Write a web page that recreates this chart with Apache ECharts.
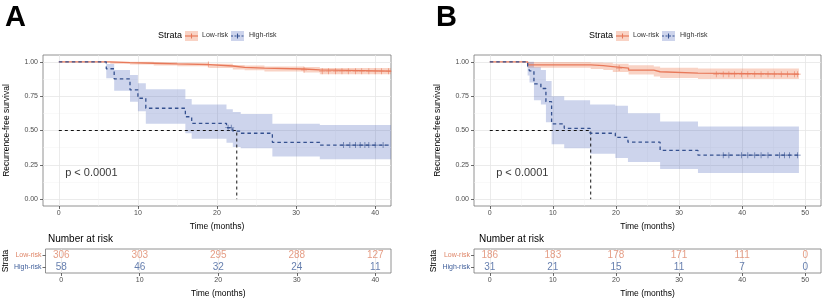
<!DOCTYPE html>
<html>
<head>
<meta charset="utf-8">
<script src="https://cdn.jsdelivr.net/npm/echarts@6/dist/echarts.min.js"></script>
<style>
html, body { margin: 0; padding: 0; background: #fff; }
#chart { width: 824px; height: 299px; }
</style>
</head>
<body>
<div id="chart"></div>
<script>
// y axis ticks (shared)
var yTicks = [0, 0.25, 0.5, 0.75, 1];
var yMinor = [0.125, 0.375, 0.625, 0.875];

// ---- panel A ----
var aXTicks = [0, 10, 20, 30, 40];
var aXMinor = [5, 15, 25, 35];
// low-risk curve + confidence band (step values)
var aLowT  = [0, 6.5, 9, 12, 15, 19, 22, 23.5, 26, 31, 33, 42];
var aLowS  = [1, 0.995, 0.99, 0.985, 0.98, 0.97, 0.96, 0.955, 0.948, 0.942, 0.932, 0.932];
var aLowLo = [1, 0.987, 0.98, 0.974, 0.968, 0.955, 0.944, 0.938, 0.93, 0.922, 0.91, 0.91];
var aLowHi = [1, 1, 1, 0.997, 0.993, 0.986, 0.978, 0.973, 0.967, 0.962, 0.955, 0.955];
var aLowCensor = [18.9, 31, 33.3, 34.1, 35, 35.8, 36.6, 37.5, 38.3, 39.2, 40, 40.8, 41.7];
// high-risk curve + band
var aHighT  = [0, 6, 7, 9, 10, 11, 16, 16.8, 21.2, 22, 23, 27, 33, 42];
var aHighS  = [1, 0.95, 0.876, 0.796, 0.735, 0.662, 0.6, 0.552, 0.52, 0.496, 0.48, 0.414, 0.394, 0.394];
var aHighLo = [1, 0.88, 0.79, 0.71, 0.64, 0.55, 0.48, 0.44, 0.41, 0.38, 0.37, 0.31, 0.29, 0.29];
var aHighHi = [1, 0.985, 0.94, 0.905, 0.845, 0.8, 0.73, 0.69, 0.655, 0.635, 0.62, 0.55, 0.54, 0.54];
var aHighCensor = [21.4, 21.8, 36, 36.8, 37.5, 38.1, 38.7, 39.2, 40, 41];
var aMedian = 22.5;
var aRiskT = [0, 10, 20, 30, 40];
var aRiskLow = [306, 303, 295, 288, 127];
var aRiskHigh = [58, 46, 32, 24, 11];

// ---- panel B ----
var bXTicks = [0, 10, 20, 30, 40, 50];
var bXMinor = [5, 15, 25, 35, 45];
var bLowT  = [0, 6, 16, 18, 19.5, 22, 26, 27, 33, 49];
var bLowS  = [1, 0.978, 0.972, 0.966, 0.955, 0.94, 0.928, 0.918, 0.91, 0.91];
var bLowLo = [1, 0.957, 0.948, 0.94, 0.926, 0.908, 0.893, 0.882, 0.875, 0.875];
var bLowHi = [1, 0.999, 0.996, 0.993, 0.986, 0.975, 0.966, 0.958, 0.952, 0.952];
var bLowCensor = [20.5, 35.9, 37, 37.9, 38.8, 39.9, 40.9, 42, 43, 44.1, 45.1, 46.2, 47.2, 48.3, 48.8];
var bHighT  = [0, 6, 6.3, 7, 8.1, 8.9, 9.8, 11.8, 15.9, 19.9, 21.9, 27, 33, 49];
var bHighS  = [1, 0.968, 0.935, 0.839, 0.806, 0.71, 0.548, 0.516, 0.48, 0.45, 0.415, 0.355, 0.32, 0.32];
var bHighLo = [1, 0.9, 0.85, 0.72, 0.69, 0.56, 0.4, 0.37, 0.33, 0.3, 0.27, 0.22, 0.19, 0.19];
var bHighHi = [1, 1, 1, 0.96, 0.94, 0.86, 0.75, 0.72, 0.69, 0.68, 0.625, 0.565, 0.53, 0.53];
var bHighCensor = [37, 37.9, 39.9, 40.9, 42, 43, 44.1, 45.9, 46.7, 47.5, 48.8];
var bMedian = 16;
var bRiskT = [0, 10, 20, 30, 40, 50];
var bRiskLow = [186, 183, 178, 171, 111, 0];
var bRiskHigh = [31, 21, 15, 11, 7, 0];

var FONT = '"Liberation Sans", Arial, sans-serif';
var LOW_COL = '#E8795A', HIGH_COL = '#34508F';
var LOW_BAND = 'rgba(235,108,62,0.3)', HIGH_BAND = 'rgba(75,102,185,0.28)';
var LOW_TXT = '#DE8466', HIGH_TXT = '#3F5E9A';
var PLUS = 'path://M0,4.4H10V5.6H0Z M4.4,0H5.6V10H4.4Z';

var panels = [
	{letter: 'A', left: 43, width: 348, xMin: -2, xMax: 42, xTicks: aXTicks, xMinor: aXMinor, pvalX: 0.8,
	 low: {t: aLowT, s: aLowS, lo: aLowLo, hi: aLowHi, c: aLowCensor},
	 high: {t: aHighT, s: aHighS, lo: aHighLo, hi: aHighHi, c: aHighCensor},
	 median: aMedian, riskT: aRiskT, riskLow: aRiskLow, riskHigh: aRiskHigh},
	{letter: 'B', left: 474, width: 347, xMin: -2.5, xMax: 52.5, xTicks: bXTicks, xMinor: bXMinor, pvalX: 1,
	 low: {t: bLowT, s: bLowS, lo: bLowLo, hi: bLowHi, c: bLowCensor},
	 high: {t: bHighT, s: bHighS, lo: bHighLo, hi: bHighHi, c: bHighCensor},
	 median: bMedian, riskT: bRiskT, riskLow: bRiskLow, riskHigh: bRiskHigh}
];

// survival value at time t (step function)
function survAt(t, T, S) {
	var v = S[0];
	for (var i = 0; i < T.length; i++) {
		if (T[i] <= t) v = S[i];
	}
	return v;
}

// confidence band drawn as one step polygon
function bandSeries(xi, yi, cur, color) {
	return {
		type: 'custom', xAxisIndex: xi, yAxisIndex: yi, z: 1, silent: true, clip: true,
		data: [[cur.t[0], cur.lo[0], cur.hi[0]]],
		encode: {x: 0, y: [1, 2]},
		renderItem: function (params, api) {
			var pts = [];
			var n = cur.t.length;
			for (var i = 0; i < n - 1; i++) {
				pts.push(api.coord([cur.t[i], cur.hi[i]]));
				pts.push(api.coord([cur.t[i + 1], cur.hi[i]]));
			}
			for (var j = n - 2; j >= 0; j--) {
				pts.push(api.coord([cur.t[j + 1], cur.lo[j]]));
				pts.push(api.coord([cur.t[j], cur.lo[j]]));
			}
			return {type: 'polygon', shape: {points: pts}, style: {fill: color, stroke: null}};
		}
	};
}

var option = {
	animation: false,
	textStyle: {fontFamily: FONT},
	title: [], grid: [], xAxis: [], yAxis: [], series: [], graphic: []
};

function xAxisOpt(gi, p, ticks, named, labels) {
	return {
		gridIndex: gi, type: 'value', position: 'bottom', min: p.xMin, max: p.xMax,
		axisLine: {show: false, onZero: false},
		axisTick: {show: labels, customValues: ticks, length: 3, lineStyle: {color: '#444', width: 0.8}},
		axisLabel: {show: labels, customValues: ticks, fontSize: 7, color: '#4d4d4d', margin: 4, fontFamily: FONT},
		splitLine: {show: true, lineStyle: {color: labels ? '#e6e6e6' : '#f3f3f3', width: labels ? 0.8 : 0.5}},
		name: named ? 'Time (months)' : '', nameLocation: 'middle', nameGap: 16,
		nameTextStyle: {fontSize: 8.5, color: '#000', fontFamily: FONT}
	};
}

function yAxisOpt(gi, ticks, labels) {
	return {
		gridIndex: gi, type: 'value', position: 'left', min: -0.05, max: 1.05,
		axisLine: {show: false, onZero: false},
		axisTick: {show: labels, customValues: ticks, length: 3, lineStyle: {color: '#444', width: 0.8}},
		axisLabel: {show: labels, customValues: ticks, fontSize: 7, color: '#4d4d4d', margin: 5, fontFamily: FONT,
			formatter: function (v) { return v.toFixed(2); }},
		splitLine: {show: true, lineStyle: {color: labels ? '#e6e6e6' : '#f3f3f3', width: labels ? 0.8 : 0.5}},
		name: labels ? 'Recurrence-free survival' : '', nameLocation: 'middle', nameGap: 32, nameRotate: 90,
		nameTextStyle: {fontSize: 8.5, color: '#000', fontFamily: FONT}
	};
}

panels.forEach(function (p) {
	var gMain = option.grid.length;
	var gTab = gMain + 1;
	option.grid.push({left: p.left, top: 55, width: p.width, height: 151, show: true,
		borderColor: '#777', borderWidth: 0.8, backgroundColor: '#fff'});
	option.grid.push({left: p.left, top: 249, width: p.width, height: 27, show: true,
		borderColor: '#777', borderWidth: 0.8, backgroundColor: '#fff'});

	option.xAxis.push(xAxisOpt(gMain, p, p.xMinor, false, false));
	var xMain = option.xAxis.length;
	option.xAxis.push(xAxisOpt(gMain, p, p.xTicks, true, true));
	var xTab = option.xAxis.length;
	option.xAxis.push(xAxisOpt(gTab, p, p.xTicks, true, true));

	option.yAxis.push(yAxisOpt(gMain, yMinor, false));
	var yMain = option.yAxis.length;
	option.yAxis.push(yAxisOpt(gMain, yTicks, true));
	var yTab = option.yAxis.length;
	option.yAxis.push({
		gridIndex: gTab, type: 'category', position: 'left', data: ['High-risk', 'Low-risk'],
		axisLine: {show: false, onZero: false},
		axisTick: {show: true, alignWithLabel: true, interval: 0, length: 3, lineStyle: {color: '#444', width: 0.8}},
		axisLabel: {margin: 4, interval: 0, fontFamily: FONT,
			formatter: function (v) { return (v === 'Low-risk' ? '{l|' : '{h|') + v + '}'; },
			rich: {l: {color: LOW_TXT, fontSize: 7, fontFamily: FONT}, h: {color: HIGH_TXT, fontSize: 7, fontFamily: FONT}}},
		splitLine: {show: false},
		name: 'Strata', nameLocation: 'middle', nameGap: 33, nameRotate: 90,
		nameTextStyle: {fontSize: 8.5, color: '#000', fontFamily: FONT}
	});

	// bands
	option.series.push(bandSeries(xMain, yMain, p.low, LOW_BAND));
	option.series.push(bandSeries(xMain, yMain, p.high, HIGH_BAND));

	// median reference lines
	option.series.push({
		type: 'line', xAxisIndex: xMain, yAxisIndex: yMain, symbol: 'none', z: 2,
		data: [[0, 0.5], [p.median, 0.5], [p.median, 0]],
		lineStyle: {color: '#111', width: 1, type: [3, 3]}
	});

	// KM curves
	[['low', LOW_COL, 'solid'], ['high', HIGH_COL, [3.5, 3]]].forEach(function (d) {
		var cur = p[d[0]];
		option.series.push({
			type: 'line', xAxisIndex: xMain, yAxisIndex: yMain, step: 'end', symbol: 'none', z: 3,
			data: cur.t.map(function (t, i) { return [t, cur.s[i]]; }),
			lineStyle: {color: d[1], width: 1.3, type: d[2]}
		});
		option.series.push({
			type: 'scatter', xAxisIndex: xMain, yAxisIndex: yMain, symbol: PLUS, symbolSize: 6, z: 4,
			data: cur.c.map(function (t) { return [t, survAt(t, cur.t, cur.s)]; }),
			itemStyle: {color: d[1]}
		});
	});

	// p value
	option.series.push({
		type: 'scatter', xAxisIndex: xMain, yAxisIndex: yMain, symbolSize: 0.1, z: 5,
		data: [[p.pvalX, 0.19]], itemStyle: {color: 'transparent'},
		label: {show: true, position: 'right', distance: 0, formatter: 'p < 0.0001',
			fontSize: 11, color: '#000', fontFamily: FONT}
	});

	// risk table numbers
	[['Low-risk', p.riskLow, LOW_TXT], ['High-risk', p.riskHigh, HIGH_TXT]].forEach(function (d) {
		option.series.push({
			type: 'scatter', xAxisIndex: xTab, yAxisIndex: yTab, symbolSize: 0.1,
			data: p.riskT.map(function (t, i) { return [t, d[0], d[1][i]]; }),
			itemStyle: {color: 'transparent'},
			label: {show: true, position: 'inside', formatter: function (q) { return q.value[2]; },
				fontSize: 10, color: d[2], fontFamily: FONT}
		});
	});

	// titles
	option.title.push({text: p.letter, left: p.left - 43, top: -2,
		textStyle: {fontSize: 29, fontWeight: 'bold', color: '#000', fontFamily: FONT}});
	option.title.push({text: 'Number at risk', left: p.left, top: 229,
		textStyle: {fontSize: 10, fontWeight: 'normal', color: '#000', fontFamily: FONT}});

	// legend
	var lx = p.left;
	option.graphic.push({type: 'text', left: lx + 115, top: 31,
		style: {text: 'Strata', fontSize: 9, fill: '#000', fontFamily: FONT}});
	[[142, 159, 'Low-risk', LOW_COL, LOW_BAND, null], [188, 206, 'High-risk', HIGH_COL, HIGH_BAND, [2, 1.5]]].forEach(function (d) {
		var x0 = lx + d[0];
		option.graphic.push({type: 'rect', shape: {x: x0, y: 31, width: 13, height: 10}, style: {fill: d[4]}});
		option.graphic.push({type: 'line', shape: {x1: x0, y1: 36, x2: x0 + 13, y2: 36},
			style: {stroke: d[3], lineWidth: 1.2, lineDash: d[5]}});
		option.graphic.push({type: 'line', shape: {x1: x0 + 6.5, y1: 33.5, x2: x0 + 6.5, y2: 38.5},
			style: {stroke: d[3], lineWidth: 1.1}});
		option.graphic.push({type: 'text', left: lx + d[1], top: 32,
			style: {text: d[2], fontSize: 7, fill: '#333', fontFamily: FONT}});
	});
});

var myChart = echarts.init(document.getElementById('chart'), null, {renderer: 'canvas'});
myChart.setOption(option);
</script>
</body>
</html>
